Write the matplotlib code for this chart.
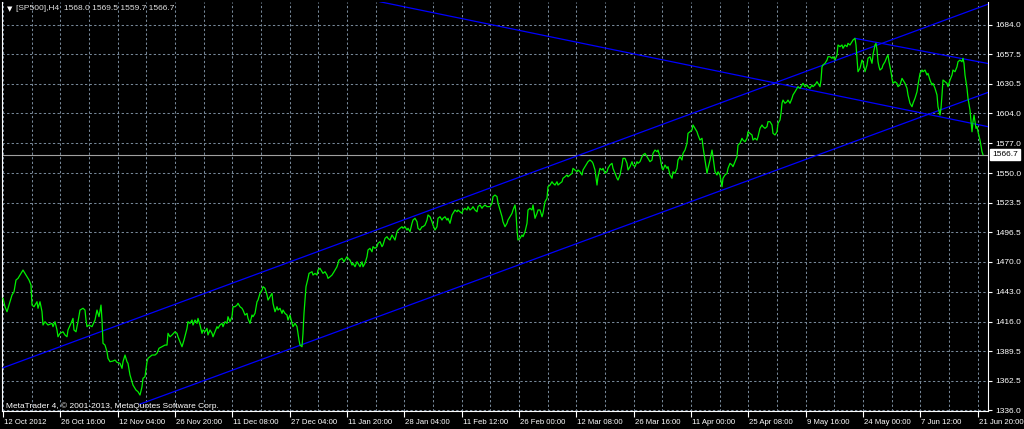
import numpy as np
import matplotlib
matplotlib.use("Agg")
import matplotlib.pyplot as plt
import matplotlib.transforms as mtransforms

plt.rcParams['font.family'] = ['Liberation Sans', 'DejaVu Sans']

# ---------------- data ----------------
title_text = "[SP500],H4  1568.0 1569.5 1559.7 1566.7"
watermark = "MetaTrader 4, \u00a9 2001-2013, MetaQuotes Software Corp."
last_price = 1566.7

bar = [3, 5, 7, 9, 12, 14, 16, 18, 21, 23, 26, 29, 31, 32, 34, 37, 38, 40, 42, 43, 45, 48, 52, 53, 55, 57, 58, 60, 63, 65,
       67, 68, 71, 73, 74, 76, 78, 80, 83, 85, 86, 87, 89, 92, 95, 97, 99, 101, 102, 103, 105, 107, 108, 110, 113, 115, 117, 120, 122, 123,
       125, 127, 128, 130, 132, 133, 136, 138, 140, 142, 143, 145, 147, 148, 152, 155, 157, 159, 162, 165, 167, 168, 170, 172, 175, 177, 178, 180, 182, 184,
       187, 188, 190, 192, 193, 195, 197, 198, 200, 202, 203, 205, 207, 208, 210, 212, 213, 215, 217, 218, 220, 222, 223, 225, 227, 228, 230, 232, 233, 235,
       237, 238, 240, 242, 243, 245, 247, 248, 250, 252, 253, 255, 257, 258, 260, 262, 263, 265, 267, 268, 270, 272, 273, 275, 277, 278, 280, 282, 283, 285,
       287, 288, 290, 292, 293, 295, 297, 298, 299, 300, 302, 303, 304, 306, 308, 309, 312, 313, 315, 317, 318, 320, 322, 323, 325, 327, 328, 330, 332, 334,
       337, 339, 342, 344, 347, 348, 350, 352, 353, 355, 357, 358, 360, 362, 363, 365, 367, 368, 370, 372, 373, 375, 377, 378, 380, 382, 383, 385, 387, 388,
       390, 392, 393, 395, 397, 398, 400, 402, 403, 405, 407, 408, 410, 412, 413, 415, 417, 418, 420, 422, 423, 425, 427, 428, 430, 432, 433, 435, 437, 438,
       440, 442, 443, 445, 447, 448, 450, 452, 453, 455, 457, 458, 460, 462, 463, 465, 467, 468, 470, 472, 473, 475, 477, 478, 480, 482, 483, 485, 487, 488,
       490, 492, 493, 495, 497, 498, 500, 502, 503, 505, 507, 508, 510, 512, 513, 515, 516, 517, 518, 520, 522, 523, 525, 527, 528, 530, 532, 533, 535, 537,
       538, 540, 542, 543, 545, 547, 548, 550, 552, 553, 555, 557, 558, 560, 562, 563, 565, 567, 568, 570, 572, 573, 575, 577, 578, 580, 582, 583, 585, 587,
       588, 590, 592, 593, 595, 597, 598, 600, 602, 603, 605, 607, 608, 610, 612, 613, 615, 617, 618, 620, 622, 623, 625, 627, 628, 630, 632, 633, 635, 637,
       638, 640, 642, 643, 645, 647, 648, 650, 652, 653, 655, 657, 658, 660, 662, 663, 665, 667, 668, 670, 672, 673, 675, 677, 678, 680, 682, 683, 685, 687,
       688, 690, 692, 693, 695, 697, 698, 700, 702, 703, 705, 707, 708, 710, 712, 713, 715, 717, 718, 720, 722, 723, 725, 727, 728, 730, 732, 733, 735, 737,
       738, 740, 742, 743, 745, 747, 748, 750, 752, 753, 755, 757, 758, 760, 762, 763, 765, 767, 768, 770, 772, 773, 775, 777, 778, 780, 781, 782, 783, 785,
       787, 788, 790, 792, 793, 795, 797, 798, 800, 802, 803, 805, 807, 808, 810, 812, 813, 815, 817, 818, 820, 821, 822, 823, 825, 827, 828, 830, 832, 833,
       835, 837, 838, 840, 842, 843, 845, 847, 848, 850, 852, 853, 855, 856, 857, 858, 860, 862, 863, 865, 867, 868, 870, 872, 873, 875, 876, 877, 878, 879,
       880, 882, 883, 885, 887, 888, 889, 891, 892, 893, 895, 897, 898, 900, 902, 903, 905, 907, 908, 910, 912, 913, 915, 917, 918, 920, 922, 923, 925, 927,
       928, 930, 932, 933, 935, 937, 938, 940, 941, 942, 943, 945, 947, 948, 950, 952, 953, 955, 957, 958, 960, 962, 963, 964, 965, 967, 968, 970, 972, 973,
       974, 976, 977, 978, 980, 982, 983]

close = [1437.1, 1429.5, 1425.0, 1431.0, 1440.1, 1443.0, 1453.6, 1455.1, 1459.6, 1462.6, 1458.1, 1453.6, 1449.1, 1431.0, 1429.5, 1434.0, 1428.1, 1434.0, 1425.0, 1413.0,
         1416.0, 1413.0, 1414.5, 1411.5, 1416.0, 1408.5, 1402.4, 1405.5, 1406.9, 1404.0, 1402.4, 1408.5, 1414.5, 1419.0, 1408.5, 1406.9, 1416.0, 1426.5, 1428.1, 1426.5,
         1417.5, 1411.5, 1413.0, 1411.5, 1417.5, 1426.5, 1420.5, 1431.0, 1417.5, 1396.5, 1394.9, 1388.9, 1382.9, 1379.9, 1380.5, 1381.4, 1379.3, 1378.4, 1373.9, 1379.9,
         1385.9, 1379.9, 1378.4, 1367.9, 1361.8, 1358.8, 1354.3, 1352.8, 1349.8, 1357.3, 1364.9, 1366.3, 1379.9, 1382.9, 1385.9, 1385.9, 1387.5, 1392.0, 1393.4, 1394.9,
         1394.9, 1405.5, 1402.4, 1404.0, 1406.9, 1405.5, 1402.4, 1397.9, 1393.4, 1399.4, 1410.0, 1416.0, 1414.5, 1417.5, 1413.0, 1417.5, 1414.5, 1419.0, 1413.0, 1405.5,
         1408.5, 1406.9, 1410.0, 1404.0, 1408.5, 1405.5, 1402.4, 1406.9, 1411.5, 1410.0, 1413.0, 1414.5, 1411.5, 1416.0, 1414.5, 1420.5, 1416.0, 1420.5, 1429.5, 1429.5,
         1431.0, 1432.6, 1429.5, 1428.1, 1426.5, 1422.0, 1423.5, 1419.0, 1414.5, 1422.0, 1420.5, 1423.5, 1434.0, 1435.5, 1441.6, 1444.6, 1447.6, 1446.1, 1440.1, 1435.5,
         1438.5, 1441.6, 1432.6, 1425.0, 1429.5, 1426.5, 1428.1, 1423.5, 1426.5, 1423.5, 1422.0, 1417.5, 1422.0, 1414.5, 1411.5, 1414.5, 1411.5, 1405.5, 1399.4, 1394.9,
         1393.4, 1405.5, 1423.5, 1447.6, 1455.1, 1459.6, 1461.1, 1458.1, 1459.6, 1458.1, 1462.6, 1464.2, 1461.1, 1459.6, 1461.1, 1458.1, 1455.1, 1456.5, 1458.1, 1461.0,
         1465.6, 1471.6, 1473.2, 1470.1, 1474.6, 1473.2, 1471.6, 1467.1, 1468.7, 1465.6, 1470.1, 1468.7, 1465.6, 1470.1, 1465.6, 1468.7, 1474.6, 1480.7, 1482.2, 1479.1,
         1483.7, 1482.2, 1483.7, 1486.7, 1488.2, 1483.7, 1485.2, 1491.2, 1492.7, 1491.2, 1489.7, 1494.2, 1492.7, 1489.7, 1497.2, 1498.7, 1500.3, 1501.7, 1500.3, 1501.7,
         1498.7, 1500.3, 1497.2, 1504.8, 1507.7, 1509.3, 1506.2, 1500.3, 1498.7, 1501.7, 1501.7, 1503.2, 1507.7, 1512.3, 1510.7, 1506.2, 1503.2, 1498.7, 1501.7, 1509.3,
         1510.7, 1507.7, 1509.3, 1510.7, 1507.7, 1509.3, 1504.8, 1512.3, 1513.8, 1516.8, 1515.2, 1516.8, 1515.2, 1513.8, 1516.8, 1518.3, 1516.8, 1519.8, 1516.8, 1518.3,
         1519.8, 1516.8, 1515.2, 1519.8, 1521.3, 1518.3, 1519.8, 1521.3, 1519.8, 1519.8, 1519.8, 1522.8, 1528.8, 1530.3, 1528.8, 1523.1, 1516.8, 1510.7, 1506.2, 1501.7,
         1504.8, 1507.7, 1510.7, 1513.8, 1516.8, 1521.3, 1513.8, 1498.7, 1489.7, 1491.2, 1494.2, 1492.7, 1497.2, 1504.8, 1516.8, 1518.3, 1516.8, 1521.3, 1509.3, 1513.8,
         1516.8, 1516.8, 1510.7, 1513.8, 1524.3, 1527.3, 1537.8, 1539.3, 1542.3, 1540.9, 1539.3, 1542.3, 1539.3, 1540.9, 1542.3, 1545.4, 1546.8, 1548.4, 1546.8, 1548.4,
         1549.9, 1554.4, 1552.9, 1551.3, 1552.9, 1551.3, 1548.4, 1552.9, 1555.9, 1558.9, 1560.4, 1561.9, 1560.4, 1558.9, 1552.9, 1539.3, 1546.8, 1554.4, 1552.9, 1554.4,
         1549.9, 1551.3, 1554.4, 1557.4, 1558.9, 1554.4, 1549.9, 1545.4, 1543.8, 1548.4, 1557.4, 1563.4, 1563.4, 1558.9, 1552.9, 1555.9, 1560.4, 1557.4, 1555.9, 1560.4,
         1558.9, 1560.4, 1564.9, 1566.4, 1567.9, 1564.9, 1563.4, 1560.4, 1561.9, 1567.9, 1570.9, 1569.4, 1570.9, 1564.9, 1554.7, 1552.9, 1557.4, 1554.4, 1555.9, 1548.4,
         1545.4, 1551.3, 1549.9, 1554.4, 1561.9, 1564.9, 1561.9, 1567.9, 1570.9, 1577.0, 1586.0, 1587.4, 1589.0, 1593.5, 1590.5, 1587.4, 1584.5, 1579.9, 1581.5, 1573.9,
         1561.9, 1549.9, 1554.4, 1561.9, 1570.9, 1564.9, 1551.3, 1548.4, 1551.3, 1548.4, 1537.8, 1545.4, 1548.4, 1549.9, 1554.4, 1558.9, 1557.4, 1555.9, 1560.4, 1564.9,
         1575.4, 1577.0, 1581.5, 1579.9, 1578.4, 1581.5, 1587.4, 1586.0, 1584.5, 1579.9, 1581.5, 1579.9, 1582.9, 1590.5, 1593.5, 1592.0, 1590.5, 1592.0, 1596.5, 1596.5,
         1593.5, 1586.0, 1584.5, 1587.4, 1595.0, 1598.0, 1604.0, 1613.1, 1616.0, 1613.1, 1614.5, 1616.0, 1613.1, 1617.6, 1620.6, 1623.5, 1626.6, 1628.1, 1626.6, 1629.6,
         1631.1, 1628.1, 1629.6, 1628.1, 1626.6, 1629.6, 1628.1, 1629.6, 1632.6, 1631.1, 1628.1, 1634.1, 1646.1, 1647.6, 1649.2, 1652.1, 1655.1, 1655.1, 1653.7, 1655.1,
         1652.1, 1656.7, 1665.7, 1664.2, 1665.7, 1662.7, 1665.7, 1664.2, 1667.2, 1665.7, 1668.7, 1670.2, 1671.7, 1665.7, 1653.7, 1641.6, 1644.7, 1652.1, 1650.6, 1641.6,
         1647.6, 1653.7, 1655.1, 1649.2, 1656.7, 1665.7, 1667.2, 1661.2, 1650.6, 1646.1, 1643.1, 1644.7, 1647.6, 1650.6, 1655.1, 1656.7, 1650.6, 1641.6, 1635.6, 1631.1,
         1632.6, 1631.1, 1628.1, 1629.6, 1635.6, 1634.1, 1631.1, 1626.6, 1620.6, 1613.1, 1610.0, 1613.1, 1617.6, 1623.5, 1629.6, 1640.1, 1643.1, 1641.6, 1643.1, 1638.6,
         1640.1, 1634.1, 1629.6, 1631.1, 1626.6, 1620.6, 1610.0, 1602.5, 1608.6, 1620.6, 1634.1, 1632.6, 1631.1, 1628.1, 1634.1, 1638.6, 1643.1, 1641.6, 1646.1, 1650.6,
         1652.1, 1650.6, 1653.7, 1649.2, 1638.6, 1626.6, 1617.6, 1607.0, 1587.4, 1596.5, 1602.5, 1590.5, 1592.0, 1587.4, 1579.9, 1569.4, 1566.7]

# trend lines: (bar, price) endpoints
chan_upper_bar, chan_upper_price = [3, 988], [1374.4, 1702.5]
chan_lower_bar, chan_lower_price = [140, 988], [1341.6, 1622.9]
down_long_bar, down_long_price = [380, 988], [1704.7, 1592.0]
down_short_bar, down_short_price = [855, 988], [1671.7, 1649.0]

price_ticks = [1336.0, 1362.5, 1389.5, 1416.0, 1443.0, 1470.0, 1496.5, 1523.5,
               1550.0, 1577.0, 1604.0, 1630.5, 1657.5, 1684.0]
time_labels = ["12 Oct 2012", "26 Oct 16:00", "12 Nov 04:00", "26 Nov 20:00", "11 Dec 08:00",
               "27 Dec 04:00", "11 Jan 20:00", "28 Jan 04:00", "11 Feb 12:00", "26 Feb 00:00",
               "12 Mar 08:00", "26 Mar 16:00", "11 Apr 00:00", "25 Apr 08:00", "9 May 16:00",
               "24 May 00:00", "7 Jun 12:00", "21 Jun 20:00"]

# ---------------- figure ----------------
W, H = 1024, 429
fig = plt.figure(figsize=(W / 100, H / 100), dpi=100, facecolor='black')
L, R, T, B = 2, 988, 2, 411
ax = fig.add_axes([L / W, 1 - B / H, (R - L) / W, (B - T) / H], facecolor='black')

grid_color = '#778899'
dash = (0, (2.2, 2.2))

ax.plot(bar, close, color='#00f000', lw=0.9, zorder=4)
for bx, py in [(chan_upper_bar, chan_upper_price), (chan_lower_bar, chan_lower_price),
               (down_long_bar, down_long_price), (down_short_bar, down_short_price)]:
    ax.plot(bx, py, color='#0000ff', lw=0.9, zorder=3)

ax.axhline(last_price, color='#a0a0a0', lw=0.8, zorder=2)

# x ticks (time labels), evenly spaced every 57.33 bars
step = 57.33
major = [3 + step * k for k in range(len(time_labels))]
minor = [3 + step * k + step / 2 for k in range(len(time_labels) - 1)]
ax.set_xticks(major)
ax.set_xticklabels(time_labels)
ax.set_xticks(minor, minor=True)
ax.tick_params(axis='x', which='major', colors='white', length=4, width=0.8, pad=1.5, labelsize=5.6)
ax.tick_params(axis='x', which='minor', length=0)
offset = mtransforms.ScaledTranslation(1.0 / 100, 0, fig.dpi_scale_trans)
for lbl in ax.get_xticklabels():
    lbl.set_horizontalalignment('left')
    lbl.set_transform(lbl.get_transform() + offset)

ax.yaxis.tick_right()
ax.set_yticks(price_ticks)
ax.set_yticklabels(['%.1f' % v for v in price_ticks])
ax.tick_params(axis='y', colors='white', length=3, width=0.8, pad=2, labelsize=6)

ax.set_xlim(2, 988)
ax.set_ylim(1335.4, 1704.5)

ax.grid(True, which='both', color=grid_color, linestyle=dash, linewidth=0.75, zorder=1)
ax.set_axisbelow(True)

for s in ['left', 'right', 'bottom']:
    ax.spines[s].set_color('white')
    ax.spines[s].set_linewidth(0.8)
ax.spines['top'].set_visible(False)

# last price box
ax.annotate('%.1f' % last_price, xy=(1, last_price), xycoords=('axes fraction', 'data'),
            xytext=(3, 0), textcoords='offset points', ha='left', va='center',
            fontsize=6, color='black',
            bbox=dict(boxstyle='square,pad=0.25', fc='white', ec='white'),
            annotation_clip=False, zorder=6)

# header and watermark
fig.text(7 / W, 1 - 9 / H, '\u25bc', color='white', fontsize=5, va='center', ha='left',
         family=['DejaVu Sans'])
fig.text(16 / W, 1 - 9 / H, title_text, color='#e0e0e0', fontsize=6, va='center', ha='left')
fig.text(6 / W, 1 - 406 / H, watermark, color='white', fontsize=6, va='center', ha='left', zorder=7)

fig.savefig('out.png', dpi=100, facecolor='black')
